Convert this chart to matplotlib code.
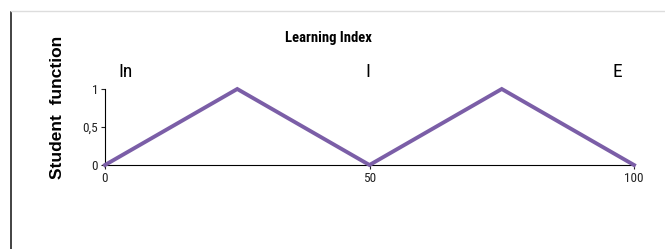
import matplotlib
matplotlib.use("Agg")
import matplotlib.pyplot as plt
from matplotlib.lines import Line2D

# data
learning_index = [0, 25, 50, 75, 100]
student_function = [0, 1, 0, 1, 0]
stage_labels = ["In", "I", "E"]
stage_x = [3.8, 49.7, 96.8]
x_ticks = [0, 50, 100]
y_ticks = [0, 0.5, 1]
y_tick_labels = ["0", "0,5", "1"]

narrow = ["Roboto Condensed", "DejaVu Sans"]

fig = plt.figure(figsize=(6.65, 2.49), dpi=100)
ax = fig.add_axes([105 / 665, 1 - 165 / 249, 529 / 665, 76 / 249])

ax.plot(learning_index, student_function, color="#7b5ea7", linewidth=2.8,
        solid_joinstyle="miter", clip_on=False, zorder=3)

ax.set_xlim(0, 100)
ax.set_ylim(0, 1)
ax.spines["top"].set_visible(False)
ax.spines["right"].set_visible(False)
ax.spines["left"].set_linewidth(0.8)
ax.spines["bottom"].set_linewidth(0.8)
ax.set_xticks(x_ticks)
ax.set_xticklabels([str(v) for v in x_ticks], family=narrow, fontsize=9.5)
ax.set_yticks(y_ticks)
ax.set_yticklabels(y_tick_labels, family=narrow, fontsize=9.5)
ax.tick_params(axis="both", length=3, width=0.8, pad=2, colors="#222222")

for lab, xv in zip(stage_labels, stage_x):
    ax.text(xv, 1.22, lab, ha="center", va="center", fontsize=14, family=narrow)

fig.text(328 / 665, 1 - 38 / 249, "Learning Index", ha="center", va="center",
         fontsize=10.5, fontweight="bold", family=narrow)
fig.text(58 / 665, 1 - 107 / 249, "Student  function", rotation=90,
         ha="center", va="center", fontsize=12.5, fontweight="bold",
         family=["Liberation Sans", "DejaVu Sans"])

# frame lines
fig.add_artist(Line2D([11 / 665, 11 / 665], [0, 1 - 12 / 249], color="#222222", linewidth=1.2))
fig.add_artist(Line2D([11 / 665, 1], [1 - 11 / 249, 1 - 11 / 249], color="#dddddd", linewidth=1))

fig.savefig("out.png", dpi=100)
